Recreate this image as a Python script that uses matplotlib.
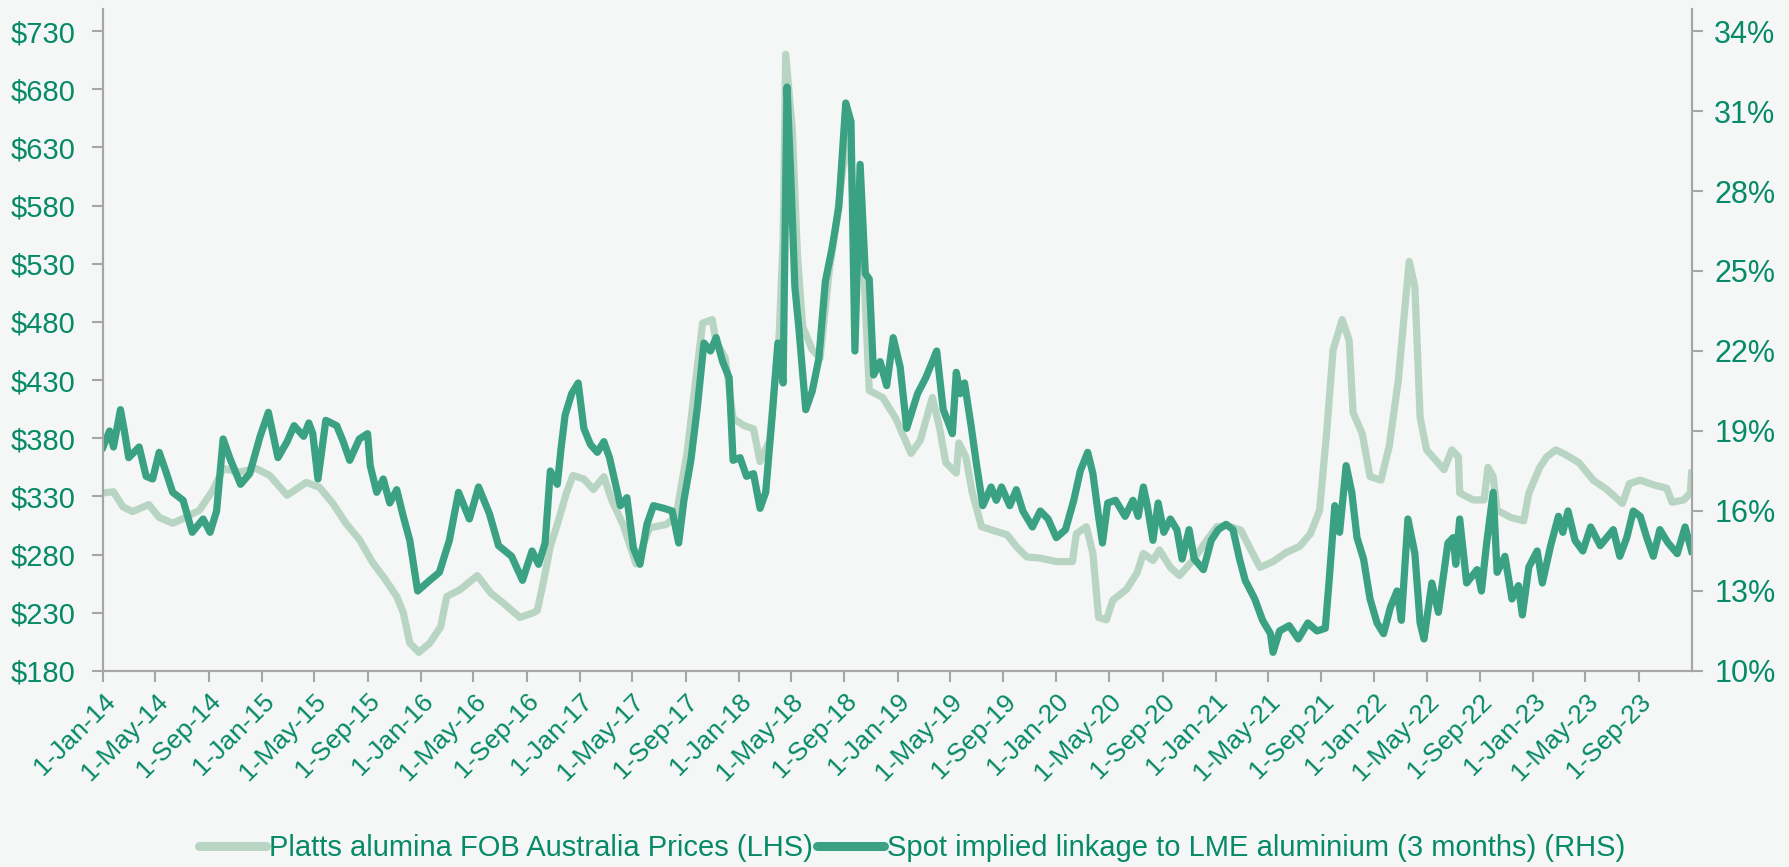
#!/usr/bin/env python

"""
Alumina price vs implied linkage to LME aluminium, 2014-2023.
"""

import matplotlib

matplotlib.use("Agg")
import matplotlib.pyplot as plt
import pandas as pd
from matplotlib.ticker import FuncFormatter

# Platts alumina FOB Australia prices (LHS, US$/t)
alumina_dates = [
    "2014-01-01", "2014-01-25", "2014-02-16", "2014-03-10", "2014-04-16",
    "2014-05-10", "2014-06-10", "2014-07-10", "2014-08-10", "2014-09-10",
    "2014-10-04", "2014-11-10", "2014-12-19", "2015-01-19", "2015-02-28",
    "2015-04-13", "2015-05-13", "2015-06-13", "2015-07-13", "2015-08-13",
    "2015-09-13", "2015-10-13", "2015-11-07", "2015-11-22", "2015-12-07",
    "2015-12-28", "2016-01-22", "2016-02-16", "2016-03-01", "2016-04-01",
    "2016-05-10", "2016-06-10", "2016-07-10", "2016-08-16", "2016-09-16",
    "2016-09-25", "2016-10-10", "2016-10-25", "2016-11-10", "2016-12-01",
    "2016-12-16", "2017-01-10", "2017-02-01", "2017-02-25", "2017-03-16",
    "2017-04-10", "2017-05-10", "2017-06-10", "2017-07-19", "2017-08-10",
    "2017-09-04", "2017-09-25", "2017-10-10", "2017-11-01", "2017-11-10",
    "2017-12-01", "2017-12-19", "2018-01-13", "2018-02-04", "2018-02-19",
    "2018-03-13", "2018-04-04", "2018-04-13", "2018-04-19", "2018-05-04",
    "2018-05-16", "2018-05-28", "2018-06-19", "2018-07-07", "2018-07-28",
    "2018-08-13", "2018-08-28", "2018-09-13", "2018-09-25", "2018-10-07",
    "2018-10-19", "2018-10-28", "2018-11-28", "2018-12-28", "2019-02-01",
    "2019-02-22", "2019-03-22", "2019-04-07", "2019-04-22", "2019-05-16",
    "2019-05-22", "2019-06-07", "2019-06-22", "2019-07-13", "2019-08-07",
    "2019-09-10", "2019-10-01", "2019-10-25", "2019-11-25", "2020-01-01",
    "2020-02-07", "2020-02-16", "2020-03-10", "2020-03-25", "2020-04-07",
    "2020-04-25", "2020-05-10", "2020-06-10", "2020-07-04", "2020-07-19",
    "2020-08-10", "2020-08-25", "2020-09-19", "2020-10-10", "2020-11-10",
    "2020-12-13", "2021-01-04", "2021-01-28", "2021-02-28", "2021-03-19",
    "2021-04-13", "2021-05-13", "2021-06-13", "2021-07-13", "2021-08-07",
    "2021-08-28", "2021-09-13", "2021-09-28", "2021-10-19", "2021-11-04",
    "2021-11-13", "2021-12-04", "2021-12-22", "2022-01-16", "2022-02-04",
    "2022-02-25", "2022-03-10", "2022-03-22", "2022-04-04", "2022-04-16",
    "2022-05-01", "2022-05-22", "2022-06-10", "2022-06-28", "2022-07-13",
    "2022-07-16", "2022-08-16", "2022-09-10", "2022-09-19", "2022-10-01",
    "2022-10-10", "2022-11-10", "2022-12-10", "2022-12-22", "2023-01-16",
    "2023-02-01", "2023-02-22", "2023-03-16", "2023-04-16", "2023-05-19",
    "2023-06-19", "2023-07-25", "2023-08-10", "2023-09-04", "2023-10-04",
    "2023-11-04", "2023-11-16", "2023-12-13", "2023-12-28", "2023-12-31",
]
alumina_price = [
    333, 334, 321, 317, 323,
    312, 307, 312, 318, 335,
    354, 351, 354, 348, 331,
    342, 338, 324, 307, 293,
    273, 258, 244, 230, 204,
    196, 204, 218, 244, 250,
    262, 247, 238, 226, 230,
    232, 258, 287, 306, 333,
    348, 345, 336, 347, 326,
    306, 272, 303, 306, 313,
    367, 432, 479, 482, 463,
    449, 397, 391, 388, 360,
    378, 469, 550, 710, 646,
    537, 476, 456, 449, 524,
    564, 611, 646, 544, 605,
    496, 421, 415, 397, 367,
    378, 415, 390, 359, 350,
    376, 364, 333, 304, 301,
    297, 287, 278, 277, 274,
    274, 298, 304, 281, 226,
    224, 241, 250, 264, 281,
    275, 284, 269, 262, 275,
    293, 304, 305, 301, 287,
    269, 274, 282, 287, 298,
    318, 384, 456, 482, 464,
    402, 384, 347, 344, 373,
    430, 484, 532, 510, 398,
    370, 361, 353, 370, 364,
    333, 327, 327, 355, 347,
    318, 312, 309, 333, 355,
    364, 370, 366, 359, 344,
    336, 324, 341, 344, 340,
    337, 325, 327, 333, 350,
]

# Spot implied linkage to LME aluminium, 3 months (RHS, %)
linkage_dates = [
    "2014-01-01", "2014-01-16", "2014-01-25", "2014-02-10", "2014-02-19",
    "2014-03-01", "2014-03-25", "2014-04-10", "2014-04-25", "2014-05-10",
    "2014-05-25", "2014-06-10", "2014-07-04", "2014-07-25", "2014-08-19",
    "2014-09-04", "2014-09-19", "2014-10-04", "2014-10-19", "2014-11-13",
    "2014-12-04", "2014-12-28", "2015-01-16", "2015-02-07", "2015-02-28",
    "2015-03-16", "2015-04-07", "2015-04-19", "2015-04-28", "2015-05-10",
    "2015-05-28", "2015-06-22", "2015-07-07", "2015-07-22", "2015-08-13",
    "2015-09-01", "2015-09-07", "2015-09-22", "2015-10-07", "2015-10-22",
    "2015-11-07", "2015-11-22", "2015-12-07", "2015-12-25", "2016-01-22",
    "2016-02-13", "2016-03-07", "2016-03-28", "2016-04-22", "2016-05-13",
    "2016-06-07", "2016-06-28", "2016-07-28", "2016-08-22", "2016-09-13",
    "2016-09-28", "2016-10-13", "2016-10-25", "2016-11-10", "2016-11-19",
    "2016-11-28", "2016-12-13", "2016-12-28", "2017-01-10", "2017-01-25",
    "2017-02-10", "2017-02-25", "2017-03-10", "2017-04-04", "2017-04-19",
    "2017-05-04", "2017-05-19", "2017-06-04", "2017-06-19", "2017-07-13",
    "2017-08-01", "2017-08-16", "2017-08-28", "2017-09-13", "2017-09-28",
    "2017-10-13", "2017-10-28", "2017-11-10", "2017-11-25", "2017-12-10",
    "2017-12-19", "2018-01-04", "2018-01-19", "2018-02-04", "2018-02-19",
    "2018-03-04", "2018-03-19", "2018-04-01", "2018-04-13", "2018-04-22",
    "2018-05-01", "2018-05-10", "2018-05-19", "2018-06-04", "2018-06-19",
    "2018-07-04", "2018-07-19", "2018-08-04", "2018-08-19", "2018-09-04",
    "2018-09-16", "2018-09-25", "2018-10-07", "2018-10-19", "2018-10-28",
    "2018-11-07", "2018-11-22", "2018-12-07", "2018-12-22", "2019-01-07",
    "2019-01-22", "2019-02-16", "2019-03-07", "2019-04-01", "2019-04-16",
    "2019-04-28", "2019-05-07", "2019-05-16", "2019-05-25", "2019-06-04",
    "2019-06-19", "2019-07-01", "2019-07-16", "2019-08-04", "2019-08-16",
    "2019-08-28", "2019-09-16", "2019-10-01", "2019-10-16", "2019-11-07",
    "2019-11-25", "2019-12-13", "2020-01-01", "2020-01-22", "2020-02-10",
    "2020-02-25", "2020-03-13", "2020-03-25", "2020-04-07", "2020-04-16",
    "2020-04-28", "2020-05-16", "2020-06-07", "2020-06-25", "2020-07-07",
    "2020-07-19", "2020-07-28", "2020-08-10", "2020-08-22", "2020-09-04",
    "2020-09-19", "2020-10-04", "2020-10-16", "2020-11-01", "2020-11-13",
    "2020-12-04", "2020-12-22", "2021-01-07", "2021-01-25", "2021-02-10",
    "2021-02-25", "2021-03-10", "2021-04-01", "2021-04-19", "2021-05-07",
    "2021-05-13", "2021-05-28", "2021-06-19", "2021-07-10", "2021-08-01",
    "2021-08-22", "2021-09-10", "2021-09-19", "2021-10-02", "2021-10-13",
    "2021-10-28", "2021-11-10", "2021-11-22", "2021-12-07", "2021-12-22",
    "2022-01-07", "2022-01-22", "2022-02-07", "2022-02-22", "2022-03-04",
    "2022-03-19", "2022-04-04", "2022-04-16", "2022-04-25", "2022-05-13",
    "2022-05-28", "2022-06-19", "2022-07-01", "2022-07-07", "2022-07-16",
    "2022-08-01", "2022-08-25", "2022-09-04", "2022-09-16", "2022-10-01",
    "2022-10-10", "2022-10-28", "2022-11-13", "2022-11-28", "2022-12-07",
    "2022-12-22", "2023-01-10", "2023-01-22", "2023-02-10", "2023-02-28",
    "2023-03-10", "2023-03-22", "2023-04-07", "2023-04-25", "2023-05-13",
    "2023-06-04", "2023-06-19", "2023-07-04", "2023-07-19", "2023-08-04",
    "2023-08-19", "2023-09-04", "2023-09-19", "2023-10-04", "2023-10-19",
    "2023-11-07", "2023-11-28", "2023-12-16", "2023-12-31",
]
linkage_pct = [
    18.4, 19.0, 18.4, 19.8, 19.0,
    18.0, 18.4, 17.3, 17.2, 18.2,
    17.5, 16.7, 16.4, 15.2, 15.7,
    15.2, 16.0, 18.7, 18.0, 17.0,
    17.4, 18.8, 19.7, 18.0, 18.6,
    19.2, 18.8, 19.3, 18.9, 17.2,
    19.4, 19.2, 18.6, 17.9, 18.7,
    18.9, 17.7, 16.7, 17.2, 16.3,
    16.8, 15.8, 14.9, 13.0, 13.4,
    13.7, 14.9, 16.7, 15.7, 16.9,
    15.9, 14.7, 14.3, 13.4, 14.5,
    14.0, 14.8, 17.5, 17.0, 18.4,
    19.6, 20.4, 20.8, 19.1, 18.5,
    18.2, 18.6, 18.0, 16.2, 16.5,
    14.6, 14.0, 15.5, 16.2, 16.1,
    16.0, 14.8, 16.4, 17.9, 19.9,
    22.3, 22.0, 22.5, 21.6, 21.0,
    17.9, 18.0, 17.3, 17.4, 16.1,
    16.7, 19.6, 22.3, 20.8, 31.9,
    28.4, 24.4, 22.9, 19.8, 20.5,
    21.7, 24.6, 25.9, 27.4, 31.3,
    30.6, 22.0, 29.0, 24.9, 24.7,
    21.1, 21.6, 20.7, 22.5, 21.4,
    19.1, 20.4, 21.0, 22.0, 19.8,
    19.3, 18.9, 21.2, 20.4, 20.8,
    19.2, 17.8, 16.2, 16.9, 16.4,
    16.9, 16.2, 16.8, 16.0, 15.4,
    16.0, 15.7, 15.0, 15.3, 16.4,
    17.5, 18.2, 17.4, 15.8, 14.8,
    16.3, 16.4, 15.8, 16.4, 15.8,
    16.9, 16.2, 14.9, 16.3, 15.2,
    15.7, 15.3, 14.2, 15.3, 14.2,
    13.8, 14.9, 15.3, 15.5, 15.3,
    14.2, 13.4, 12.7, 11.9, 11.4,
    10.7, 11.5, 11.7, 11.2, 11.8,
    11.5, 11.6, 13.4, 16.2, 15.2,
    17.7, 16.7, 15.0, 14.2, 12.7,
    11.8, 11.4, 12.4, 13.0, 11.9,
    15.7, 14.4, 11.8, 11.2, 13.3,
    12.2, 14.8, 15.0, 14.0, 15.7,
    13.3, 13.8, 13.0, 14.8, 16.7,
    13.7, 14.3, 12.7, 13.2, 12.1,
    13.9, 14.5, 13.3, 14.7, 15.8,
    15.2, 16.0, 14.9, 14.5, 15.4,
    14.7, 15.0, 15.3, 14.3, 15.0,
    16.0, 15.8, 15.0, 14.3, 15.3,
    14.8, 14.4, 15.4, 14.5,
]

left_ticks = [180, 230, 280, 330, 380, 430, 480, 530, 580, 630, 680, 730]
right_ticks = [10, 13, 16, 19, 22, 25, 28, 31, 34]

alumina_label = "Platts alumina FOB Australia Prices (LHS)"
linkage_label = "Spot implied linkage to LME aluminium (3 months) (RHS)"

# Colours
BG = "#f4f7f5"
TEXT = "#078a67"
LIGHT = "#b8d5c3"
DARK = "#3aa282"
SPINE = "#a6a6a6"

plt.rcParams["font.family"] = ["Liberation Sans", "DejaVu Sans"]

fig = plt.figure(figsize=(17.89, 8.67), dpi=100, facecolor=BG)
ax = fig.add_axes([0.0576, 0.2261, 0.8882, 0.7635])
ax.set_facecolor(BG)
ax2 = ax.twinx()

x_light = pd.to_datetime(alumina_dates)
x_dark = pd.to_datetime(linkage_dates)

ax.plot(x_light, alumina_price, color=LIGHT, lw=5.2, solid_joinstyle="round",
        label=alumina_label)
ax2.plot(x_dark, linkage_pct, color=DARK, lw=5.2, solid_joinstyle="round",
         label=linkage_label)

# Axis ranges
ax.set_xlim(pd.Timestamp("2014-01-01"), pd.Timestamp("2024-01-01"))
ax.set_ylim(180, 748.9)
ax2.set_ylim(10, 34.825)

# Ticks
xticks = pd.date_range("2014-01-01", "2023-09-01", freq="4MS")
ax.set_xticks(xticks)
ax.set_xticklabels([f"{d.day}-{d.strftime('%b-%y')}" for d in xticks],
                   rotation=45, ha="right", rotation_mode="anchor")
ax.set_yticks(left_ticks)
ax2.set_yticks(right_ticks)
ax.yaxis.set_major_formatter(FuncFormatter(lambda v, p: f"${v:.0f}"))
ax2.yaxis.set_major_formatter(FuncFormatter(lambda v, p: f"{v:.0f}%"))

ax.tick_params(axis="x", colors=SPINE, labelcolor=TEXT, labelsize=19,
               length=8, width=1.5, pad=5)
ax.tick_params(axis="y", colors=SPINE, labelcolor=TEXT, labelsize=21,
               length=8, width=1.5, pad=12)
ax2.tick_params(axis="y", colors=SPINE, labelcolor=TEXT, labelsize=22,
                length=8, width=1.5, pad=8)

for a in (ax, ax2):
    a.spines["top"].set_visible(False)
    for side in ("left", "right", "bottom"):
        a.spines[side].set_color(SPINE)
        a.spines[side].set_linewidth(1.5)

# Legend across the bottom
h1, l1 = ax.get_legend_handles_labels()
h2, l2 = ax2.get_legend_handles_labels()
leg = fig.legend(h1 + h2, l1 + l2, loc="lower center",
                 bbox_to_anchor=(0.51, -0.025), ncol=2, frameon=False,
                 fontsize=21, handlelength=2.3, handletextpad=0.1,
                 columnspacing=0.15)
for line in leg.get_lines():
    line.set_linewidth(6.5)
    line.set_solid_capstyle("round")
for text in leg.get_texts():
    text.set_color(TEXT)

fig.savefig("out.png", dpi=100, facecolor=BG)
